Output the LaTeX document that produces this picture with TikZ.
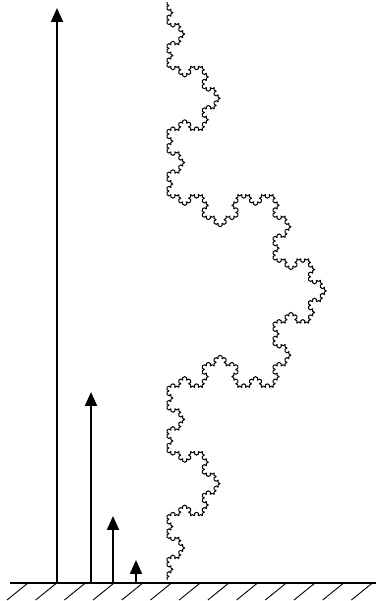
\documentclass[tikz,border=0pt]{standalone}
\usetikzlibrary{arrows.meta,lindenmayersystems}

% Koch curve rule: each segment gets a triangular bump on its right side
\pgfdeclarelindenmayersystem{Koch curve}{\rule{F -> F-F++F-F}}

\tikzset{
  ruler/.style={line width=2pt,-{Triangle[width=12pt,length=14pt]}},
  groundline/.style={line width=1.5pt},
  hatchline/.style={line width=0.9pt},
  coast/.style={line width=1pt,line join=round}
}

\begin{document}
\begin{tikzpicture}[x=1pt,y=1pt]
\useasboundingbox (0,0) rectangle (376,601);

% ground with hatching
\coordinate (gl) at (10,18);
\coordinate (gr) at (376,18);
\draw[groundline] (gl) -- (gr);
\foreach \k in {0,...,12}{
  \coordinate (htop) at ({28+28.7*\k},18);
  \coordinate (hbot) at ({7+28.7*\k},1);
  \draw[hatchline] (htop) -- (hbot);
}

% rulers of lengths 1, 1/3, 1/9, 1/27
\coordinate (r1b) at (57,18);  \coordinate (r1t) at (57,593);
\coordinate (r2b) at (91,18);  \coordinate (r2t) at (91,209);
\coordinate (r3b) at (113,18); \coordinate (r3t) at (113,85);
\coordinate (r4b) at (136,18); \coordinate (r4t) at (136,41);
\draw[ruler] (r1b) -- (r1t);
\draw[ruler] (r2b) -- (r2t);
\draw[ruler] (r3b) -- (r3t);
\draw[ruler] (r4b) -- (r4t);

% Koch coastline, order 5, drawn upward from the ground
\draw[coast, shift={(167,21)}, xscale=0.955, rotate=90,
      lindenmayer system={Koch curve, axiom=F, order=5, step=2.3786pt, angle=60}]
  (0,0) lindenmayer system;
\end{tikzpicture}
\end{document}
